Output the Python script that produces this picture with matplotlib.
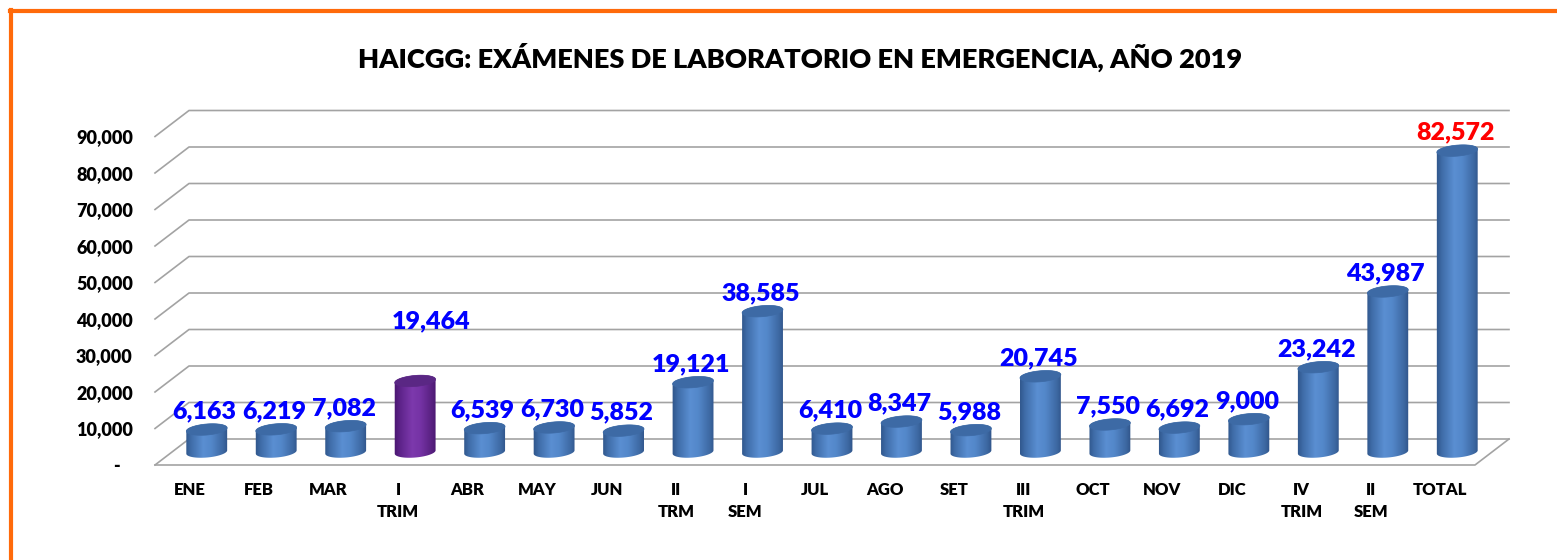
import numpy as np
import matplotlib
matplotlib.use("Agg")
import matplotlib.pyplot as plt
from matplotlib.patches import Polygon
from matplotlib.lines import Line2D
from matplotlib.colors import LinearSegmentedColormap

# data
categories = ["ENE", "FEB", "MAR", "I\nTRIM", "ABR", "MAY", "JUN", "II\nTRM", "I\nSEM",
              "JUL", "AGO", "SET", "III\nTRIM", "OCT", "NOV", "DIC", "IV\nTRIM", "II\nSEM", "TOTAL"]
values = [6163, 6219, 7082, 19464, 6539, 6730, 5852, 19121, 38585,
          6410, 8347, 5988, 20745, 7550, 6692, 9000, 23242, 43987, 82572]
y_ticks = list(range(0, 90001, 10000))
y_labels = ["-   "] + [f"{v:,}" for v in y_ticks[1:]]
title = "HAICGG: EXÁMENES DE LABORATORIO EN EMERGENCIA, AÑO 2019"

plt.rcParams['font.family'] = ['Lato', 'DejaVu Sans']
plt.rcParams['font.weight'] = 'bold'

W, H = 1557, 560
fig = plt.figure(figsize=(W / 100, H / 100), dpi=100)
fig.patch.set_facecolor('white')

# front plane of the fake 3d box (pixels from top-left)
left, front_right, floor, top90 = 155, 1475, 465, 136.5
dpx, dpy = 34, 26  # depth offset in pixels
n = len(categories)
px_x = (front_right - left) / n
px_y = (floor - top90) / 90000
depth_x = dpx / px_x
depth_y = dpy / px_y

ax = fig.add_axes([left / W, 1 - floor / H, (front_right + dpx - left) / W, (floor - top90 + dpy) / H])
ax.set_facecolor('none')

grid_c = '#a3a3a3'
x0, x1 = -0.5, n - 0.5
# back wall gridlines with oblique left edges
for v in y_ticks:
    ax.plot([x0, x0 + depth_x, x1 + depth_x], [v, v + depth_y, v + depth_y],
            color=grid_c, lw=1.2, zorder=1, clip_on=False)
# floor front and right edges
ax.plot([x0, x1, x1 + depth_x], [0, 0, depth_y], color=grid_c, lw=1.2, zorder=1, clip_on=False)

blue = LinearSegmentedColormap.from_list('b', [(0, '#2b4f82'), (0.15, '#3f6ca8'), (0.42, '#5a8fd2'),
                                               (0.6, '#5387c9'), (0.85, '#3d68a2'), (1, '#2a4c7e')])
purple = LinearSegmentedColormap.from_list('p', [(0, '#45136a'), (0.15, '#5d2389'), (0.42, '#7d39ad'),
                                                 (0.6, '#7533a5'), (0.85, '#57207f'), (1, '#431268')])

half_w, half_h, tilt = 20.5, 5.5, np.deg2rad(5)


def ellipse(cx, cy, t):
    ex, ey = half_w * np.cos(t), half_h * np.sin(t)
    rx = ex * np.cos(tilt) - ey * np.sin(tilt)
    ry = ex * np.sin(tilt) + ey * np.cos(tilt)
    return cx + rx / px_x, cy + ry / px_y


grad = np.linspace(0, 1, 256).reshape(1, -1)
for i, (cat, v) in enumerate(zip(categories, values)):
    cx = i + depth_x / 2
    y_bot = depth_y / 2
    y_top = v + depth_y / 2
    is_hl = cat == "I\nTRIM"
    cmap = purple if is_hl else blue
    top_c = '#5a2784' if is_hl else '#3d6aa5'

    bx, by = ellipse(cx, y_bot, np.linspace(np.pi, 2 * np.pi, 60))
    tx, ty = ellipse(cx, y_top, np.linspace(0, np.pi, 60))
    body = Polygon(np.column_stack([np.r_[bx, tx], np.r_[by, ty]]), closed=True,
                   transform=ax.transData, facecolor='none', edgecolor='none')
    ext_x = half_w * 1.1 / px_x
    ext_y = half_h * 1.5 / px_y
    im = ax.imshow(grad, cmap=cmap, aspect='auto', interpolation='bilinear',
                   extent=[cx - ext_x, cx + ext_x, y_bot - ext_y, y_top + ext_y], zorder=3)
    im.set_clip_path(body)

    ex, ey = ellipse(cx, y_top, np.linspace(0, 2 * np.pi, 80))
    ax.add_patch(Polygon(np.column_stack([ex, ey]), closed=True, facecolor=top_c,
                         edgecolor=top_c, lw=0.5, zorder=4))

    if is_hl:
        off = (11.5, 43)
    else:
        off = (-1.5, 13)
    ax.annotate(f"{v:,}", (cx, y_top), xytext=off, textcoords='offset points',
                ha='center', va='center', fontsize=18, fontweight='heavy',
                color='#ff0000' if cat == "TOTAL" else '#0000ff', zorder=6)

ax.set_xlim(x0, x1 + depth_x)
ax.set_ylim(0, 90000 + depth_y)
ax.set_xticks(range(n))
ax.set_xticklabels(categories, fontsize=12, fontweight='heavy', linespacing=1.5, va='top')
ax.set_yticks(y_ticks)
ax.set_yticklabels(y_labels, fontsize=13, fontweight='heavy')
ax.tick_params(axis='both', length=0)
ax.tick_params(axis='x', pad=12)
ax.tick_params(axis='y', pad=16)
for s in ax.spines.values():
    s.set_visible(False)

fig.text(800 / W, 1 - 57 / H, title, ha='center', va='center', fontsize=19.6, fontweight='heavy', color='black')

# orange frame (top and left edges visible)
orange = '#ff6a0a'
fig.add_artist(Line2D([10 / W, 1], [1 - 11 / H, 1 - 11 / H], color=orange, lw=3, transform=fig.transFigure))
fig.add_artist(Line2D([11 / W, 11 / W], [1 - 10 / H, 0], color=orange, lw=3, transform=fig.transFigure))

fig.savefig('out.png', dpi=100, facecolor='white')
